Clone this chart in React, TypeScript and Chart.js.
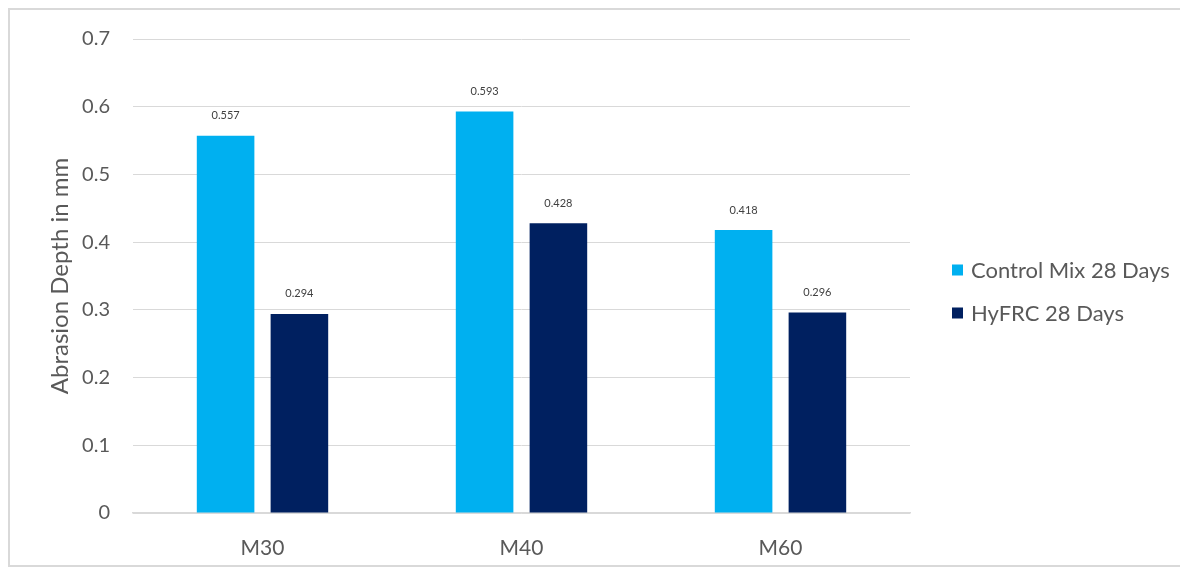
import React, { useEffect, useRef } from "react";
import { Chart, registerables } from "chart.js";

Chart.register(...registerables);

const categories = ["M30", "M40", "M60"];
const controlMix = [0.557, 0.593, 0.418];
const hyFRC = [0.294, 0.428, 0.296];
const seriesNames = ["Control Mix 28 Days", "HyFRC 28 Days"];
const seriesColors = ["#00B0F0", "#002060"];
const yTicks = [0, 0.1, 0.2, 0.3, 0.4, 0.5, 0.6, 0.7];

const FONT = "Lato, 'Open Sans', sans-serif";
const TEXT = "#595959";

const labelPlugin = {
  id: "barLabels",
  afterDatasetsDraw(chart: any) {
    const ctx = chart.ctx;
    ctx.save();
    ctx.font = `11px ${FONT}`;
    ctx.fillStyle = "#404040";
    ctx.textAlign = "center";
    ctx.textBaseline = "middle";
    chart.data.datasets.forEach((ds: any, i: number) => {
      const meta = chart.getDatasetMeta(i);
      meta.data.forEach((bar: any, j: number) => {
        ctx.fillText(ds.data[j].toFixed(3), bar.x, bar.y - 20);
      });
    });
    ctx.restore();
  },
};

const legendPlugin = {
  id: "sideLegend",
  afterDraw(chart: any) {
    const ctx = chart.ctx;
    const area = chart.chartArea;
    const mid = (area.top + area.bottom) / 2;
    const x = area.right + 42;
    const ys = [mid - 6, mid + 37];
    ctx.save();
    ctx.font = `22px ${FONT}`;
    ctx.textBaseline = "middle";
    ctx.textAlign = "left";
    chart.data.datasets.forEach((ds: any, i: number) => {
      const y = ys[i];
      ctx.fillStyle = ds.backgroundColor;
      ctx.fillRect(x, y - 5.5, 11, 11);
      ctx.fillStyle = TEXT;
      ctx.fillText(ds.label, x + 19, y + 1);
    });
    ctx.restore();
  },
};

export default function App() {
  const ref = useRef<HTMLCanvasElement>(null);
  useEffect(() => {
    const chart = new Chart(ref.current!, {
      type: "bar",
      data: {
        labels: categories,
        datasets: [
          { label: seriesNames[0], data: controlMix, backgroundColor: seriesColors[0], categoryPercentage: 0.57, barPercentage: 0.78 },
          { label: seriesNames[1], data: hyFRC, backgroundColor: seriesColors[1], categoryPercentage: 0.57, barPercentage: 0.78 },
        ],
      },
      options: {
        animation: false,
        responsive: true,
        maintainAspectRatio: false,
        layout: { padding: { left: 0, right: 275, top: 29, bottom: 0 } },
        plugins: {
          legend: { display: false },
          tooltip: { enabled: false },
        },
        scales: {
          x: {
            grid: { display: false, drawTicks: false },
            border: { color: "#d9d9d9", width: 1.5 },
            ticks: { color: TEXT, font: { family: FONT, size: 21 }, padding: 23 },
            afterFit: (axis: any) => {
              axis.height = 52;
            },
          },
          y: {
            min: 0,
            max: 0.7,
            afterBuildTicks: (axis: any) => {
              axis.ticks = yTicks.map((v) => ({ value: v }));
            },
            afterFit: (axis: any) => {
              axis.width = 123;
              axis.paddingTop = 0;
              axis.paddingBottom = 0;
            },
            grid: { color: "#d9d9d9", drawTicks: false },
            border: { display: false },
            ticks: {
              color: TEXT,
              font: { family: FONT, size: 20 },
              padding: 23,
              callback: (v: any) => String(Math.round(Number(v) * 10) / 10),
            },
            title: {
              display: true,
              text: "Abrasion Depth in mm",
              color: TEXT,
              font: { family: FONT, size: 24 },
              padding: { top: 36, bottom: 0 },
            },
          },
        },
      },
      plugins: [labelPlugin, legendPlugin],
    });
    return () => chart.destroy();
  }, []);
  return (
    <div
      style={{
        width: 1179,
        height: 559,
        border: "2px solid #d9d9d9",
        boxSizing: "border-box",
        position: "relative",
        background: "#fff",
      }}
    >
      <canvas ref={ref} />
    </div>
  );
}
